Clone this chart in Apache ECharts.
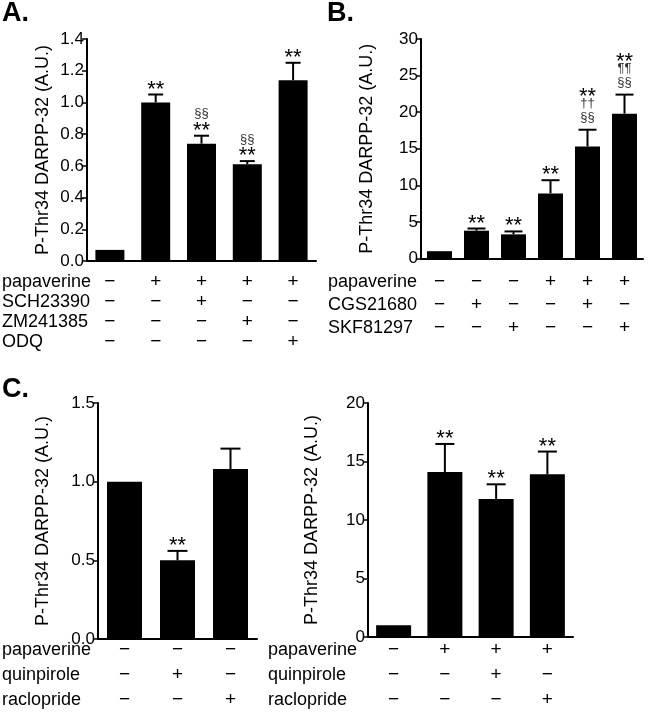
<!DOCTYPE html>
<html><head><meta charset="utf-8">
<script src="https://cdn.jsdelivr.net/npm/echarts@6/dist/echarts.min.js"></script>
<style>html,body{margin:0;padding:0;background:#fff}#c{width:655px;height:719px}</style>
</head><body><div id="c"></div>
<script>
// ---------- DATA ----------
const aCategories = ['1', '2', '3', '4', '5'];
const aMeans = [0.07, 1.00, 0.74, 0.61, 1.14];
const aSem = [0, 0.05, 0.05, 0.02, 0.11];
const aMarks = [[], ['**'], ['§§', '**'], ['§§', '**'], ['**']];
const aRowNames = ['papaverine', 'SCH23390', 'ZM241385', 'ODQ'];
const aRowSigns = [
  ['−', '+', '+', '+', '+'],
  ['−', '−', '+', '−', '−'],
  ['−', '−', '−', '+', '−'],
  ['−', '−', '−', '−', '+']
];

const bCategories = ['1', '2', '3', '4', '5', '6'];
const bMeans = [1.0, 3.8, 3.3, 8.9, 15.3, 19.8];
const bSem = [0, 0.3, 0.4, 1.8, 2.3, 2.6];
const bMarks = [[], ['**'], ['**'], ['**'], ['**', '††', '§§'], ['**', '¶¶', '§§']];
const bRowNames = ['papaverine', 'CGS21680', 'SKF81297'];
const bRowSigns = [
  ['−', '−', '−', '+', '+', '+'],
  ['−', '+', '−', '−', '+', '−'],
  ['−', '−', '+', '−', '−', '+']
];

const c1Categories = ['1', '2', '3'];
const c1Means = [1.0, 0.50, 1.08];
const c1Sem = [0, 0.06, 0.13];
const c1Marks = [[], ['**'], []];
const c1RowNames = ['papaverine', 'quinpirole', 'raclopride'];
const c1RowSigns = [
  ['−', '−', '−'],
  ['−', '+', '−'],
  ['−', '−', '+']
];

const c2Categories = ['1', '2', '3', '4'];
const c2Means = [1.0, 14.1, 11.8, 13.9];
const c2Sem = [0, 2.4, 1.25, 1.95];
const c2Marks = [[], ['**'], ['**'], ['**']];
const c2RowNames = ['papaverine', 'quinpirole', 'raclopride'];
const c2RowSigns = [
  ['−', '+', '+', '+'],
  ['−', '−', '+', '−'],
  ['−', '−', '−', '+']
];

const yAxisName = 'P-Thr34 DARPP-32 (A.U.)';

// ---------- LAYOUT / STYLE ----------
const FONT = '"Liberation Sans", Arial, Helvetica, sans-serif';
const panels = [
  { cats: aCategories, means: aMeans, sem: aSem, marks: aMarks, rowNames: aRowNames, rowSigns: aRowSigns,
    grid: { left: 87, top: 39, width: 229, height: 222 }, min: 0, max: 1.4, interval: 0.2, dec: 1,
    nameGap: 35, barWidth: 29, cap: 15, rowOffsets: [21, 41, 61, 81], rowNameX: 2 },
  { cats: bCategories, means: bMeans, sem: bSem, marks: bMarks, rowNames: bRowNames, rowSigns: bRowSigns,
    grid: { left: 421, top: 39, width: 222, height: 219.5 }, min: 0, max: 30, interval: 5, dec: 0,
    nameGap: 45, barWidth: 25, cap: 18, rowOffsets: [23.5, 46.5, 69.5], rowNameX: 328 },
  { cats: c1Categories, means: c1Means, sem: c1Sem, marks: c1Marks, rowNames: c1RowNames, rowSigns: c1RowSigns,
    grid: { left: 98, top: 403, width: 159, height: 236 }, min: 0, max: 1.5, interval: 0.5, dec: 1,
    nameGap: 46, barWidth: 35, cap: 20, rowOffsets: [11, 36, 61], rowNameX: 2 },
  { cats: c2Categories, means: c2Means, sem: c2Sem, marks: c2Marks, rowNames: c2RowNames, rowSigns: c2RowSigns,
    grid: { left: 368, top: 403, width: 205, height: 234 }, min: 0, max: 20, interval: 5, dec: 0,
    nameGap: 47, barWidth: 35, cap: 19, rowOffsets: [13, 38, 63], rowNameX: 268 }
];

const grids = [], xAxes = [], yAxes = [], series = [], graphics = [];
panels.forEach((p, gi) => {
  grids.push(Object.assign({ containLabel: false }, p.grid));
  const mainX = xAxes.length;
  xAxes.push({
    type: 'category', gridIndex: gi, data: p.cats,
    axisLine: { lineStyle: { color: '#000', width: 2 } },
    axisTick: { show: false }, axisLabel: { show: false }, splitLine: { show: false }
  });
  const gridBottom = p.grid.top + p.grid.height;
  p.rowNames.forEach((rn, ri) => {
    const signs = p.rowSigns[ri];
    xAxes.push({
      type: 'category', gridIndex: gi, data: p.cats, position: 'bottom', offset: p.rowOffsets[ri],
      axisLine: { show: false }, axisTick: { show: false }, splitLine: { show: false },
      axisLabel: { show: true, margin: 0, verticalAlign: 'middle', interval: 0,
        formatter: (v, idx) => signs[idx], fontFamily: FONT, fontSize: 19, color: '#000' }
    });
    graphics.push({ type: 'text', x: p.rowNameX, y: gridBottom + p.rowOffsets[ri], silent: true,
      style: { text: rn, font: '18px ' + FONT, fill: '#000', align: 'left', verticalAlign: 'middle' } });
  });
  const yi = yAxes.length;
  yAxes.push({
    type: 'value', gridIndex: gi, min: p.min, max: p.max, interval: p.interval,
    axisLine: { show: true, lineStyle: { color: '#000', width: 2 } },
    axisTick: { show: true, length: 5, lineStyle: { color: '#000', width: 1.5 } },
    axisLabel: { fontFamily: FONT, fontSize: 17, color: '#000', margin: 3,
      formatter: v => v.toFixed(p.dec) },
    splitLine: { show: false },
    name: yAxisName, nameLocation: 'middle', nameGap: p.nameGap,
    nameTextStyle: { fontFamily: FONT, fontSize: 18, color: '#000' }
  });
  series.push({
    type: 'bar', xAxisIndex: mainX, yAxisIndex: yi, data: p.means,
    barWidth: p.barWidth, itemStyle: { color: '#000' }, silent: true, animation: false
  });
  series.push({
    type: 'custom', xAxisIndex: mainX, yAxisIndex: yi, animation: false, silent: true, z: 5,
    data: p.means.map((m, i) => [i, m, p.sem[i]]),
    renderItem: (params, api) => {
      const i = api.value(0), m = api.value(1), s = api.value(2);
      const base = api.coord([i, m]);
      const top = api.coord([i, m + s]);
      const ch = [];
      if (s > 0) {
        ch.push({ type: 'line', shape: { x1: base[0], y1: base[1], x2: top[0], y2: top[1] },
          style: { stroke: '#000', lineWidth: 2 } });
        ch.push({ type: 'line', shape: { x1: top[0] - p.cap / 2, y1: top[1], x2: top[0] + p.cap / 2, y2: top[1] },
          style: { stroke: '#000', lineWidth: 2 } });
      }
      const marks = p.marks[params.dataIndex];
      let cursor = top[1] - 5;
      for (let k = marks.length - 1; k >= 0; k--) {
        const t = marks[k];
        const star = t === '**';
        const h = star ? 10 : 14;
        const cy = cursor - h / 2;
        ch.push({ type: 'text', style: {
          text: t, x: top[0], y: star ? cy + 5 : cy, align: 'center', verticalAlign: 'middle',
          font: (star ? '22px ' : '13px ') + FONT, fill: star ? '#000' : '#333'
        } });
        cursor -= h;
      }
      return { type: 'group', children: ch };
    }
  });
});

graphics.push(
  { type: 'text', left: 2, top: 0, style: { text: 'A.', font: 'bold 27px ' + FONT, fill: '#000' } },
  { type: 'text', left: 327, top: 0, style: { text: 'B.', font: 'bold 27px ' + FONT, fill: '#000' } },
  { type: 'text', left: 2, top: 376, style: { text: 'C.', font: 'bold 27px ' + FONT, fill: '#000' } }
);

const chart = echarts.init(document.getElementById('c'), null, { renderer: 'canvas' });
chart.setOption({
  animation: false,
  grid: grids, xAxis: xAxes, yAxis: yAxes, series: series,
  graphic: graphics
});
</script></body></html>
